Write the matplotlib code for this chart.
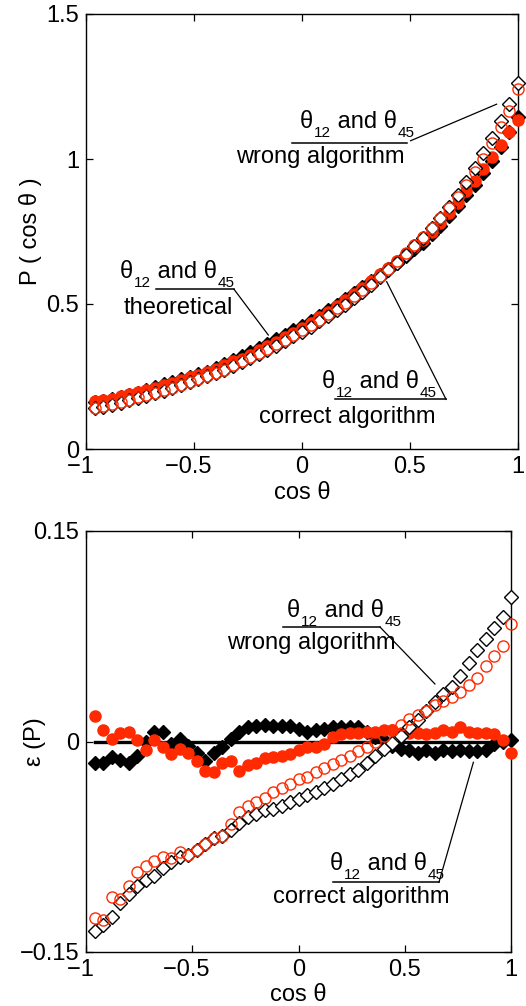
import numpy as np
import matplotlib
matplotlib.use("Agg")
import matplotlib.pyplot as plt

plt.rcParams['font.family'] = ['Liberation Sans', 'DejaVu Sans']
plt.rcParams['axes.unicode_minus'] = True

# bin centres in cos(theta)
cos_theta = np.round(np.arange(-0.96, 1.001, 0.04), 2)

# top panel: P(cos theta)
p_theory = [0.161, 0.165, 0.172, 0.179, 0.185, 0.194, 0.204, 0.213, 0.223, 0.230,
            0.240, 0.249, 0.258, 0.267, 0.280, 0.293, 0.307, 0.320, 0.334, 0.349,
            0.363, 0.378, 0.393, 0.409, 0.425, 0.441, 0.460, 0.478, 0.498, 0.517,
            0.537, 0.559, 0.579, 0.600, 0.621, 0.641, 0.664, 0.688, 0.712, 0.741,
            0.769, 0.803, 0.837, 0.875, 0.912, 0.951, 0.994, 1.043, 1.093, 1.146]
p_correct = [0.166, 0.169, 0.174, 0.182, 0.189, 0.196, 0.203, 0.212, 0.220, 0.228,
             0.239, 0.248, 0.256, 0.265, 0.276, 0.290, 0.302, 0.311, 0.325, 0.340,
             0.355, 0.370, 0.385, 0.401, 0.418, 0.436, 0.454, 0.473, 0.494, 0.515,
             0.535, 0.556, 0.579, 0.602, 0.625, 0.648, 0.671, 0.696, 0.722, 0.749,
             0.780, 0.814, 0.849, 0.889, 0.924, 0.964, 1.006, 1.050, 1.094, 1.136]
p_wrong_d = [0.141, 0.146, 0.152, 0.160, 0.168, 0.176, 0.184, 0.192, 0.201, 0.210,
             0.220, 0.230, 0.240, 0.251, 0.263, 0.274, 0.287, 0.300, 0.313, 0.327,
             0.341, 0.356, 0.371, 0.388, 0.404, 0.421, 0.440, 0.458, 0.478, 0.498,
             0.520, 0.542, 0.566, 0.592, 0.617, 0.642, 0.670, 0.699, 0.729, 0.761,
             0.797, 0.835, 0.876, 0.921, 0.969, 1.020, 1.073, 1.130, 1.190, 1.263]
p_wrong_c = [0.142, 0.147, 0.155, 0.161, 0.169, 0.178, 0.186, 0.194, 0.203, 0.211,
             0.221, 0.230, 0.240, 0.251, 0.263, 0.274, 0.288, 0.302, 0.316, 0.330,
             0.345, 0.361, 0.376, 0.393, 0.410, 0.427, 0.446, 0.465, 0.485, 0.505,
             0.527, 0.549, 0.573, 0.598, 0.622, 0.648, 0.675, 0.703, 0.732, 0.761,
             0.795, 0.831, 0.870, 0.911, 0.955, 1.001, 1.054, 1.109, 1.167, 1.241]

# bottom panel: relative error eps(P)
eps_black = [-0.015, -0.015, -0.011, -0.013, -0.015, -0.010, 0.000, 0.007, 0.007, -0.002,
             0.002, -0.003, -0.008, -0.014, -0.008, -0.004, 0.002, 0.007, 0.010, 0.011,
             0.012, 0.011, 0.011, 0.011, 0.009, 0.007, 0.008, 0.009, 0.010, 0.010,
             0.010, 0.010, 0.007, 0.003, 0.001, -0.003, -0.005, -0.006, -0.008, -0.006,
             -0.008, -0.006, -0.007, -0.006, -0.007, -0.007, -0.006, -0.002, 0.000, 0.001]
eps_red = [0.018, 0.008, 0.002, 0.006, 0.007, 0.001, -0.006, 0.001, -0.004, -0.009,
           -0.005, -0.008, -0.014, -0.021, -0.022, -0.015, -0.014, -0.021, -0.017, -0.015,
           -0.012, -0.011, -0.010, -0.009, -0.006, -0.004, -0.004, -0.002, 0.003, 0.005,
           0.006, 0.006, 0.007, 0.007, 0.008, 0.008, 0.006, 0.006, 0.006, 0.005,
           0.006, 0.008, 0.007, 0.010, 0.007, 0.006, 0.006, 0.005, 0.001, -0.008]
eps_wrong_d = [-0.135, -0.131, -0.125, -0.115, -0.109, -0.103, -0.099, -0.096, -0.090, -0.086,
               -0.082, -0.081, -0.077, -0.073, -0.069, -0.067, -0.063, -0.058, -0.054, -0.052,
               -0.049, -0.048, -0.046, -0.043, -0.041, -0.038, -0.036, -0.033, -0.030, -0.027,
               -0.023, -0.020, -0.015, -0.010, -0.005, -0.001, 0.004, 0.010, 0.015, 0.022,
               0.028, 0.034, 0.039, 0.047, 0.056, 0.065, 0.073, 0.081, 0.089, 0.103]
eps_wrong_c = [-0.126, -0.127, -0.111, -0.112, -0.103, -0.093, -0.089, -0.085, -0.082, -0.083,
               -0.079, -0.081, -0.077, -0.073, -0.069, -0.067, -0.059, -0.050, -0.046, -0.043,
               -0.040, -0.036, -0.033, -0.030, -0.027, -0.025, -0.022, -0.019, -0.016, -0.013,
               -0.010, -0.007, -0.004, 0.000, 0.004, 0.008, 0.012, 0.016, 0.019, 0.022,
               0.026, 0.029, 0.032, 0.035, 0.040, 0.045, 0.054, 0.061, 0.068, 0.084]

xtick_vals = [-1, -0.5, 0, 0.5, 1]
# en space after negative labels so the digits sit centred on the tick
xtick_text = ['−1\u2002', '−0.5\u2002', '0', '0.5', '1']

RED = '#ff2a00'
FS = 17
FS_SUB = 11


def draw_series(ax, a, b, c, d):
    ax.plot(cos_theta, a, 'D', color='black', ms=7.5, zorder=3, clip_on=False)
    ax.plot(cos_theta, b, 'o', color=RED, ms=8, zorder=4, clip_on=False)
    ax.plot(cos_theta, c, 'D', mfc='white', mec='black', mew=1.0, ms=7, zorder=5,
            clip_on=False)
    ax.plot(cos_theta, d, 'o', mfc='none', mec=RED, mew=1.0, ms=8, zorder=6,
            clip_on=False)


def theta_pair(ax, x, y):
    # "theta_12 and theta_45" built from pieces so the subscripts drop low
    t1 = ax.text(x, y, 'θ', fontsize=FS, ha='left', va='baseline', zorder=7)
    s1 = ax.annotate('12', xy=(1, y), xycoords=(t1, 'data'), xytext=(0.5, -6.5),
                     textcoords='offset points', fontsize=FS_SUB, va='baseline', zorder=7)
    t2 = ax.annotate(' and θ', xy=(1, y), xycoords=(s1, 'data'), xytext=(0, 0),
                     textcoords='offset points', fontsize=FS, va='baseline', zorder=7)
    ax.annotate('45', xy=(1, y), xycoords=(t2, 'data'), xytext=(0.5, -6.5),
                textcoords='offset points', fontsize=FS_SUB, va='baseline', zorder=7)


def note(ax, x1, y1, x2, y2, rule, leader, text2):
    # two-line label with a rule between and a leader line to the data
    theta_pair(ax, x1, y1)
    ax.text(x2, y2, text2, fontsize=FS, ha='left', va='baseline', zorder=7)
    ax.plot(rule[0], rule[1], color='black', lw=1.1, zorder=7)
    ax.plot(leader[0], leader[1], color='black', lw=0.9, zorder=7)


def style(ax):
    ax.set_xlim(-1, 1)
    ax.set_xticks(xtick_vals)
    ax.set_xticklabels(xtick_text)
    ax.tick_params(direction='in', top=True, right=True, length=5, width=0.9,
                   labelsize=FS, pad=5)
    for s in ax.spines.values():
        s.set_linewidth(1.0)


fig = plt.figure(figsize=(5.26, 10.06), dpi=100)

# top panel
ax1 = fig.add_axes([86 / 526, 1 - 449 / 1006, 432 / 526, 435 / 1006])
draw_series(ax1, p_theory, p_correct, p_wrong_d, p_wrong_c)
ax1.set_ylim(0, 1.5)
ax1.set_yticks([0, 0.5, 1, 1.5])
ax1.set_yticklabels(['0', '0.5', '1', '1.5'])
ax1.set_xlabel('cos θ', fontsize=FS)
ax1.set_ylabel('P ( cos θ )', fontsize=FS)
ax1.xaxis.set_label_coords(0.5, -0.077)
ax1.yaxis.set_label_coords(-0.102, 0.5)
style(ax1)

note(ax1, -0.009, 1.107, -0.306, 0.986,
     ([-0.046, 0.486], [1.056, 1.056]), ([0.503, 0.901], [1.063, 1.189]),
     'wrong algorithm')
note(ax1, -0.843, 0.590, -0.824, 0.466,
     ([-0.676, -0.315], [0.551, 0.551]), ([-0.315, -0.156], [0.551, 0.393]),
     'theoretical')
note(ax1, 0.093, 0.210, -0.199, 0.090,
     ([0.153, 0.667], [0.171, 0.171]), ([0.667, 0.392], [0.171, 0.577]),
     'correct algorithm')

# bottom panel
ax2 = fig.add_axes([86 / 526, 1 - 952 / 1006, 425 / 526, 421 / 1006])
ax2.plot(cos_theta, np.zeros_like(cos_theta), color='black', lw=2.4, zorder=2)
draw_series(ax2, eps_black, eps_red, eps_wrong_d, eps_wrong_c)
ax2.set_ylim(-0.15, 0.15)
ax2.set_yticks([-0.15, 0, 0.15])
ax2.set_yticklabels(['−0.15', '0', '0.15'])
ax2.set_xlabel('cos θ', fontsize=FS)
ax2.set_ylabel('ε (P)', fontsize=FS)
ax2.xaxis.set_label_coords(0.5, -0.077)
ax2.yaxis.set_label_coords(-0.094, 0.5)
style(ax2)

note(ax2, -0.054, 0.0884, -0.336, 0.0656,
     ([-0.073, 0.384], [0.0815, 0.0815]), ([0.384, 0.642], [0.0815, 0.041]),
     'wrong algorithm')
note(ax2, 0.148, -0.0919, -0.120, -0.1152,
     ([0.162, 0.661], [-0.1003, -0.1003]), ([0.661, 0.823], [-0.1003, -0.0148]),
     'correct algorithm')

fig.savefig('out.png', dpi=100)
